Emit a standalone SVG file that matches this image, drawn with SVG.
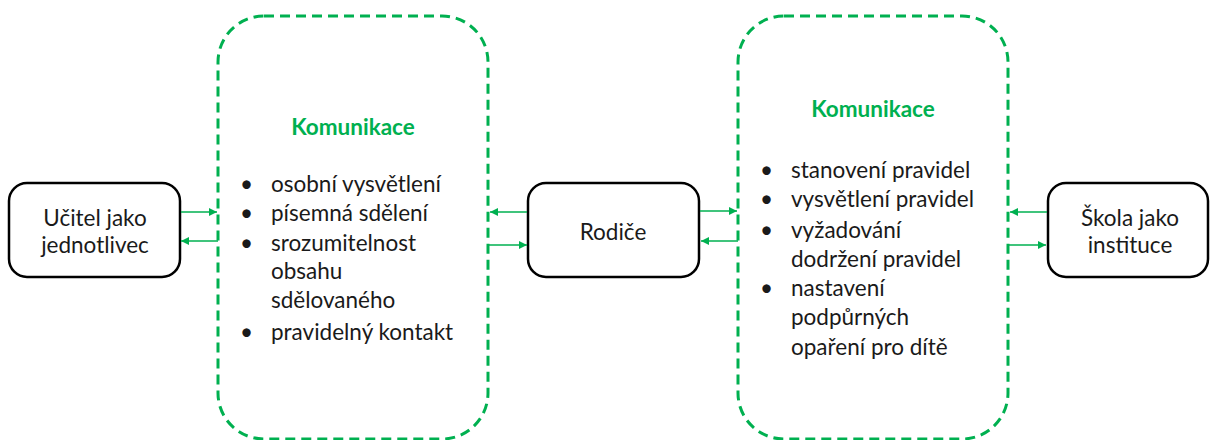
<svg xmlns="http://www.w3.org/2000/svg" width="1211" height="440" viewBox="0 0 1211 440">
  <defs>
    <marker id="arrow" viewBox="0 0 10 10" refX="10" refY="5" markerWidth="8" markerHeight="8" markerUnits="userSpaceOnUse" orient="auto">
      <path d="M0,0 L10,5 L0,10 z" fill="#00B050"/>
    </marker>
    <style>
      .node { fill: #ffffff; stroke: #000000; stroke-width: 2.5; }
      .group { fill: none; stroke: #00B050; stroke-width: 3; stroke-dasharray: 10 6; }
      .label { font-family: Lato, "Open Sans", sans-serif; font-size: 22.5px; fill: #1a1a1a; }
      .title { font-family: Lato, "Open Sans", sans-serif; font-size: 22.5px; font-weight: bold; fill: #00B050; text-anchor: middle; }
      .mid { text-anchor: middle; }
      .conn { stroke: #00B050; stroke-width: 1.5; fill: none; marker-end: url(#arrow); }
    </style>
  </defs>

  <!-- communication groups -->
  <g id="komunikace-ucitel">
    <rect class="group" x="218" y="16" width="270" height="423" rx="46" ry="46"/>
    <text class="title" x="353" y="135">Komunikace</text>
    <g class="label">
      <text x="240" y="192">•</text><text x="271" y="192">osobní vysvětlení</text>
      <text x="240" y="221">•</text><text x="271" y="221">písemná sdělení</text>
      <text x="240" y="251">•</text><text x="271" y="251">srozumitelnost</text>
      <text x="271" y="279">obsahu</text>
      <text x="271" y="308">sdělovaného</text>
      <text x="240" y="340">•</text><text x="271" y="340">pravidelný kontakt</text>
    </g>
  </g>

  <g id="komunikace-skola">
    <rect class="group" x="738" y="16" width="270" height="423" rx="46" ry="46"/>
    <text class="title" x="873" y="117">Komunikace</text>
    <g class="label">
      <text x="760" y="178">•</text><text x="791" y="178">stanovení pravidel</text>
      <text x="760" y="207">•</text><text x="791" y="207">vysvětlení pravidel</text>
      <text x="760" y="238">•</text><text x="791" y="238">vyžadování</text>
      <text x="791" y="267">dodržení pravidel</text>
      <text x="760" y="296">•</text><text x="791" y="296">nastavení</text>
      <text x="791" y="325">podpůrných</text>
      <text x="791" y="355">opaření pro dítě</text>
    </g>
  </g>

  <!-- actors -->
  <g id="ucitel">
    <rect class="node" x="9" y="183" width="171" height="94" rx="18" ry="18"/>
    <text class="label mid" x="95" y="226">Učitel jako</text>
    <text class="label mid" x="95" y="253">jednotlivec</text>
  </g>

  <g id="rodice">
    <rect class="node" x="528" y="183" width="171" height="94" rx="18" ry="18"/>
    <text class="label mid" x="613" y="240">Rodiče</text>
  </g>

  <g id="skola">
    <rect class="node" x="1048" y="183" width="160" height="94" rx="18" ry="18"/>
    <text class="label mid" x="1130" y="226">Škola jako</text>
    <text class="label mid" x="1130" y="253">instituce</text>
  </g>

  <!-- connectors -->
  <g id="connectors">
    <line class="conn" x1="181" y1="212" x2="217" y2="212"/>
    <line class="conn" x1="218" y1="241" x2="181" y2="241"/>
    <line class="conn" x1="527" y1="212" x2="490" y2="212"/>
    <line class="conn" x1="489" y1="245" x2="527" y2="245"/>
    <line class="conn" x1="700" y1="211" x2="737" y2="211"/>
    <line class="conn" x1="738" y1="241" x2="701" y2="241"/>
    <line class="conn" x1="1047" y1="212" x2="1010" y2="212"/>
    <line class="conn" x1="1009" y1="245" x2="1046" y2="245"/>
  </g>
</svg>
